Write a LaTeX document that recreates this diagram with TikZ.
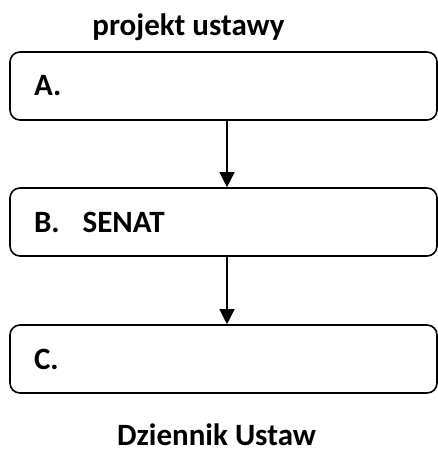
\documentclass[tikz,border=0pt]{standalone}
\usepackage{fontspec}
\setmainfont{Carlito}
\usepackage{tikz}
\usetikzlibrary{positioning, arrows.meta}

\begin{document}
\begin{tikzpicture}[x=1pt,y=-1pt,
    stage/.style={draw, line width=1.6pt, rounded corners=10pt,
      minimum width=427pt, minimum height=68pt, inner xsep=24pt,
      text width=379pt, align=left, font=\bfseries\fontsize{31}{36}\selectfont},
    heading/.style={inner sep=0pt, anchor=base, font=\bfseries\fontsize{31}{36}\selectfont},
    flow/.style={line width=1.3pt, -{Triangle[width=15pt,length=15pt]}}]
       \useasboundingbox (0,0) rectangle (438,452);
       \node[heading] (top) at (188.5,36) {projekt ustawy};
       \node[stage] (a) at (223.5,86) {A.};
       \node[stage] (b) at (223.5,222) {B.\hspace{23pt}SENAT};
       \node[stage] (c) at (223.5,359) {C.};
       \node[heading] (bottom) at (216.5,445) {Dziennik Ustaw};
       \draw[flow] ([xshift=3.5pt]a.south) -- ([xshift=3.5pt]b.north);
       \draw[flow] ([xshift=3.5pt]b.south) -- ([xshift=3.5pt]c.north);
     \end{tikzpicture}
\end{document}
